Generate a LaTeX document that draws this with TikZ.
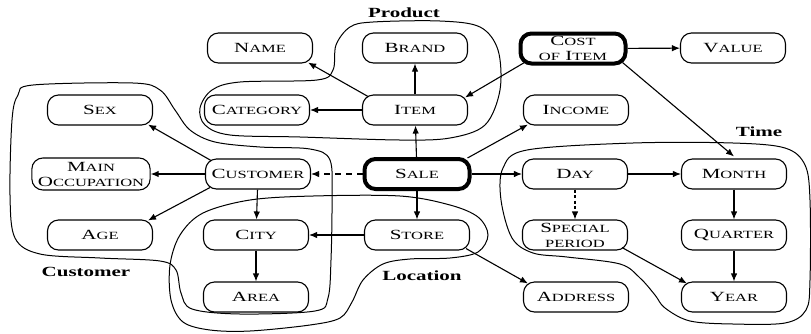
\documentclass[tikz,border=0pt]{standalone}
\usepackage{fontspec}
\setmainfont[FakeStretch=1.5]{Liberation Serif}
\usetikzlibrary{arrows.meta}
% small-capital part of a word
\newcommand\lc[1]{{\fontsize{11}{15}\selectfont\uppercase{#1}}}
\tikzset{
  attr/.style={draw, line width=1.1pt, rounded corners=11pt, minimum width=105pt,
    minimum height=30pt, inner xsep=6pt, inner ysep=2pt, align=center,
    font=\fontsize{14}{15}\selectfont},
  fact/.style={attr, line width=4pt},
  arr/.style={line width=1.1pt, -{Latex[length=8pt,width=6.5pt]}},
  dasharr/.style={arr, dash pattern=on 6pt off 5pt},
  dotarr/.style={arr, dash pattern=on 3pt off 2.5pt},
  region/.style={line width=1pt, smooth cycle, tension=0.55},
  grouplabel/.style={font=\bfseries\fontsize{14}{15}\selectfont}
}
\begin{document}
\begin{tikzpicture}[x=1pt, y=-1pt]
\useasboundingbox (0,0) rectangle (811,333);

% dimension regions
\draw[region] plot coordinates {(373,22) (440,21) (480,27) (498,50) (500,90) (485,125)
  (450,138) (400,140) (300,137) (230,135) (205,125) (200,108) (212,90) (240,82)
  (317,80) (333,70) (336,45) (350,27)};
\draw[region] plot coordinates {(33,85) (133,83) (160,90) (175,110) (190,130) (215,142)
  (260,147) (310,149) (330,160) (332,200) (331,260) (328,298) (315,311) (240,314)
  (192,309) (181,293) (176,270) (160,261) (100,258) (40,254) (15,238) (10,195)
  (12,120) (18,95)};
\draw[region] plot coordinates {(250,200) (313,196) (400,196) (450,205) (478,217)
  (488,235) (478,252) (450,258) (410,259) (383,264) (363,280) (352,302) (340,318)
  (310,325) (250,331) (210,330) (183,322) (171,300) (170,265) (180,235) (203,213)};
\draw[region] plot coordinates {(527,150) (633,143) (733,143) (785,148) (805,165)
  (810,200) (810,280) (806,310) (785,323) (733,324) (690,321) (665,308) (655,295)
  (640,278) (620,264) (567,257) (533,253) (512,238) (501,200) (503,168)};

% region names
\node[grouplabel] (lproduct) at (404,13) {Product};
\node[grouplabel] (ltime) at (759,132) {Time};
\node[grouplabel] (lcustomer) at (86,272) {Customer};
\node[grouplabel] (llocation) at (422,276) {Location};

% attributes
\node[attr] (name) at (260,48) {N\lc{ame}};
\node[attr] (brand) at (415,48) {B\lc{rand}};
\node[fact] (cost) at (573,48.5) {C\lc{ost}\\\lc{of} I\lc{tem}};
\node[attr] (value) at (733,48) {V\lc{alue}};

\node[attr] (sex) at (100,110) {S\lc{ex}};
\node[attr] (category) at (257,110) {C\lc{ategory}};
\node[attr] (item) at (415,110) {I\lc{tem}};
\node[attr] (income) at (576,110) {I\lc{ncome}};

\node[attr, minimum height=32pt] (occ) at (91,174) {M\lc{ain}\\O\lc{ccupation}};
\node[attr] (customer) at (258,174) {C\lc{ustomer}};
\node[fact] (sale) at (417,174) {S\lc{ale}};
\node[attr] (day) at (575,174) {D\lc{ay}};
\node[attr] (month) at (734,174) {M\lc{onth}};

\node[attr] (age) at (100,235) {A\lc{ge}};
\node[attr] (city) at (256,235) {C\lc{ity}};
\node[attr] (store) at (417,235) {S\lc{tore}};
\node[attr] (special) at (575,235) {S\lc{pecial}\\\lc{period}};
\node[attr] (quarter) at (734,235) {Q\lc{uarter}};

\node[attr] (area) at (256,297) {A\lc{rea}};
\node[attr] (address) at (576,297) {A\lc{ddress}};
\node[attr] (year) at (734,297) {Y\lc{ear}};

% connectors
\draw[arr] ([xshift=6pt,yshift=-2pt]item.north west) -- ([xshift=-5pt,yshift=1pt]name.south east);
\draw[arr] (item) -- (brand);
\draw[arr] (item) -- (category);
\draw[arr] ([xshift=6pt,yshift=3pt]cost.south west) -- ([xshift=-3pt,yshift=-3pt]item.north east);
\draw[arr] (cost) -- (value);
\draw[arr] ([xshift=-5pt,yshift=3pt]cost.south east) -- ([yshift=2pt]month.north);
\draw[arr] (sale) -- (item);
\draw[arr] ([xshift=-4pt,yshift=-1pt]sale.north east) -- ([xshift=5pt,yshift=1pt]income.south west);
\draw[dasharr] (sale) -- (customer);
\draw[arr] (sale) -- (day);
\draw[arr] (sale) -- (store);
\draw[arr] (day) -- (month);
\draw[dotarr] (day) -- (special);
\draw[arr] (month) -- (quarter);
\draw[arr] (quarter) -- (year);
\draw[arr] ([xshift=-6pt,yshift=3pt]special.south east) -- ([xshift=6pt,yshift=-2pt]year.north west);
\draw[arr] ([xshift=6pt,yshift=-2pt]customer.north west) -- ([xshift=-5pt,yshift=1pt]sex.south east);
\draw[arr] (customer) -- (occ);
\draw[arr] ([xshift=5pt,yshift=2pt]customer.south west) -- ([xshift=-5pt,yshift=-1pt]age.north east);
\draw[arr] (customer) -- (city);
\draw[arr] (city) -- (area);
\draw[arr] (store) -- (city);
\draw[arr] ([xshift=-4pt,yshift=2pt]store.south east) -- ([xshift=5pt,yshift=-2pt]address.north west);
\end{tikzpicture}
\end{document}
